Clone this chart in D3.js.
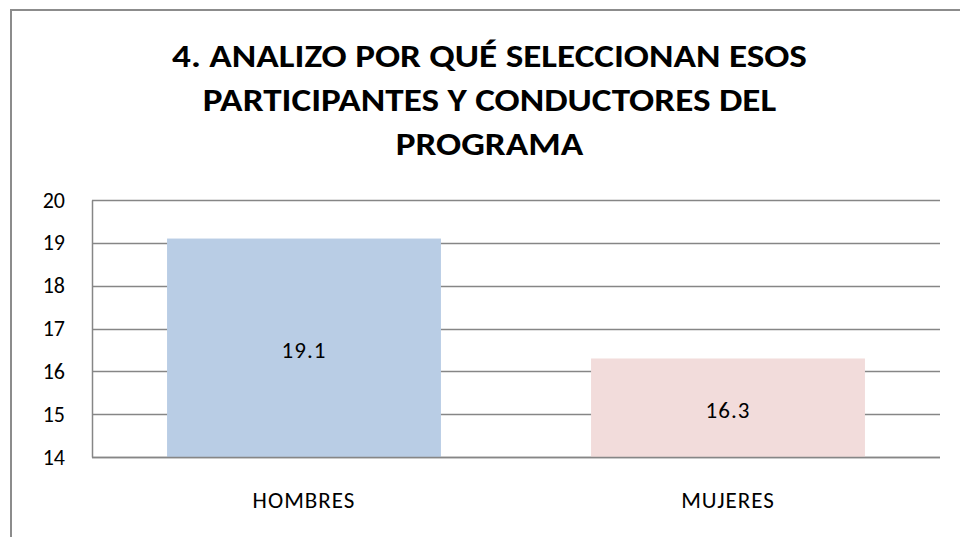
<!DOCTYPE html>
<html>
<head>
<meta charset="utf-8">
<script src="https://cdn.jsdelivr.net/npm/d3@7"></script>
<style>
  html, body { margin: 0; padding: 0; background: #fff; }
  svg { display: block; }
  text { font-family: Carlito, Calibri, "Open Sans", sans-serif; fill: #000; }
</style>
</head>
<body>
<script>
// chart data
var titleLines = ["4. ANALIZO POR QUÉ SELECCIONAN ESOS", "PARTICIPANTES Y CONDUCTORES DEL", "PROGRAMA"];
var categories = ["HOMBRES", "MUJERES"];
var values = [19.1, 16.3];
var barColors = ["#B9CDE5", "#F2DCDB"];
var yTicks = [14, 15, 16, 17, 18, 19, 20];

var width = 960, height = 537;
var margin = {top: 200, right: 20, bottom: 80, left: 92};
var labelFont = "Carlito, Calibri, 'Open Sans', sans-serif";

var svg = d3.select("body").append("svg")
    .attr("width", width)
    .attr("height", height);

// outer chart frame (runs off the right and bottom edges)
svg.append("rect")
    .attr("x", 11).attr("y", 10)
    .attr("width", 980).attr("height", 560)
    .attr("fill", "none")
    .attr("stroke", "#8c8c8c")
    .attr("stroke-width", 2);

// title
var title = svg.append("g");
var titleText = title.selectAll("text")
    .data(titleLines)
  .enter().append("text")
    .attr("x", 0)
    .attr("y", function(d, i) { return 67 + i * 44; })
    .attr("text-anchor", "middle")
    .style("font-size", "32px")
    .style("font-weight", "bold")
    .text(function(d) { return d; });

// fit title to the width of the original first line
var widest = d3.max(titleText.nodes(), function(n) { return n.getComputedTextLength(); });
var sx = 635 / widest;
title.attr("transform", "translate(489.5,0) scale(" + sx + ",1)");

var x = d3.scaleBand()
    .domain(categories)
    .range([margin.left, width - margin.right])
    .paddingInner(0.354)
    .paddingOuter(0.177);

var y = d3.scaleLinear()
    .domain([14, 20])
    .range([height - margin.bottom, margin.top]);

// gridlines
svg.append("g")
    .selectAll("line")
    .data(yTicks)
  .enter().append("line")
    .attr("x1", margin.left)
    .attr("x2", width - margin.right)
    .attr("y1", function(d) { return Math.round(y(d)) + 0.5; })
    .attr("y2", function(d) { return Math.round(y(d)) + 0.5; })
    .attr("stroke", "#868686")
    .attr("stroke-width", 1.5);

// bars
svg.append("g")
    .selectAll("rect")
    .data(values)
  .enter().append("rect")
    .attr("x", function(d, i) { return x(categories[i]); })
    .attr("y", function(d) { return y(d); })
    .attr("width", x.bandwidth())
    .attr("height", function(d) { return y(14) - y(d); })
    .attr("fill", function(d, i) { return barColors[i]; });

// base line drawn again on top of bars
svg.append("line")
    .attr("x1", margin.left).attr("x2", width - margin.right)
    .attr("y1", Math.round(y(14)) + 0.5).attr("y2", Math.round(y(14)) + 0.5)
    .attr("stroke", "#868686").attr("stroke-width", 1.5);

// y axis
var yAxis = svg.append("g")
    .attr("transform", "translate(" + margin.left + ",0)")
    .call(d3.axisLeft(y).tickValues(yTicks).tickFormat(d3.format("d")).tickSize(0).tickPadding(27));
yAxis.select(".domain")
    .attr("stroke", "#868686")
    .attr("stroke-width", 1.5);
yAxis.selectAll("text")
    .style("font-family", labelFont)
    .style("font-size", "22px")
    .attr("fill", "#000");

// x axis labels
var xAxis = svg.append("g")
    .attr("transform", "translate(0," + y(14) + ")")
    .call(d3.axisBottom(x).tickSize(0).tickPadding(35));
xAxis.select(".domain").remove();
xAxis.selectAll("text")
    .style("font-family", labelFont)
    .style("font-size", "23px")
    .style("letter-spacing", "1px")
    .attr("fill", "#000");

// value labels
svg.append("g")
    .selectAll("text")
    .data(values)
  .enter().append("text")
    .attr("x", function(d, i) { return x(categories[i]) + x.bandwidth() / 2; })
    .attr("y", function(d) { return (y(d) + y(14)) / 2 + 2; })
    .attr("dy", "0.35em")
    .attr("text-anchor", "middle")
    .style("font-size", "23px")
    .style("letter-spacing", "1px")
    .text(function(d) { return d3.format(".1f")(d); });
</script>
</body>
</html>
